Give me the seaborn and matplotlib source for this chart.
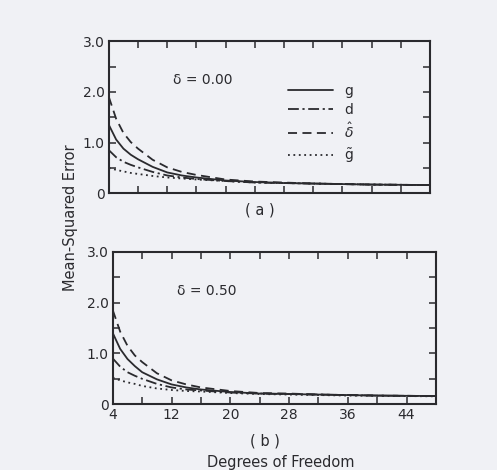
import numpy as np
import pandas as pd
import matplotlib
matplotlib.use("Agg")
import matplotlib.pyplot as plt
import seaborn as sns

# ---- data ----
dof = [4, 5, 6, 7, 8, 10, 12, 14, 16, 20, 24, 28, 32, 36, 40, 44, 48]

a_g      = [1.35, 1.06, 0.88, 0.76, 0.67, 0.52, 0.41, 0.35, 0.31, 0.25, 0.22, 0.20, 0.19, 0.18, 0.17, 0.165, 0.16]
a_d      = [0.85, 0.71, 0.62, 0.56, 0.51, 0.42, 0.35, 0.31, 0.28, 0.24, 0.21, 0.20, 0.19, 0.18, 0.17, 0.165, 0.16]
a_dhat   = [1.90, 1.47, 1.19, 1.01, 0.88, 0.66, 0.51, 0.42, 0.36, 0.27, 0.23, 0.21, 0.19, 0.18, 0.17, 0.165, 0.16]
a_gtilde = [0.50, 0.46, 0.43, 0.40, 0.38, 0.34, 0.31, 0.29, 0.27, 0.24, 0.21, 0.20, 0.19, 0.18, 0.17, 0.165, 0.16]

b_g      = [1.40, 1.09, 0.89, 0.75, 0.63, 0.49, 0.39, 0.33, 0.29, 0.24, 0.21, 0.20, 0.19, 0.18, 0.17, 0.165, 0.16]
b_d      = [0.90, 0.74, 0.63, 0.56, 0.50, 0.40, 0.33, 0.29, 0.27, 0.23, 0.21, 0.20, 0.19, 0.18, 0.17, 0.165, 0.16]
b_dhat   = [1.85, 1.43, 1.15, 0.96, 0.83, 0.61, 0.47, 0.39, 0.33, 0.26, 0.22, 0.21, 0.19, 0.18, 0.17, 0.165, 0.16]
b_gtilde = [0.52, 0.47, 0.43, 0.40, 0.36, 0.31, 0.28, 0.26, 0.25, 0.22, 0.20, 0.19, 0.18, 0.17, 0.165, 0.16, 0.155]

labels = ["g", "d", r"$\hat{\delta}$", r"$\tilde{\mathrm{g}}$"]
panel_titles = ["δ = 0.00", "δ = 0.50"]
panel_tags = ["( a )", "( b )"]
xticks_major = [4, 12, 20, 28, 36, 44]

# ---- style ----
sns.set_style("ticks")
plt.rcParams["font.family"] = ["DejaVu Sans"]
plt.rcParams["mathtext.fontset"] = "dejavusans"
bg = "#f0f1f5"
ink = "#2a2a2e"

fig = plt.figure(figsize=(4.97, 4.70), dpi=100, facecolor=bg)
ax_a = fig.add_axes([0.219, 0.589, 0.646, 0.323])
ax_b = fig.add_axes([0.227, 0.140, 0.650, 0.324])

dashes = {labels[0]: "", labels[1]: (6, 2, 1.2, 2), labels[2]: (5, 3), labels[3]: (1, 2)}

def make_df(series):
    rows = []
    for lab, vals in zip(labels, series):
        for x, y in zip(dof, vals):
            rows.append({"dof": x, "mse": y, "est": lab})
    return pd.DataFrame(rows)

data = [make_df([a_g, a_d, a_dhat, a_gtilde]), make_df([b_g, b_d, b_dhat, b_gtilde])]

for i, (ax, df) in enumerate(zip([ax_a, ax_b], data)):
    ax.set_facecolor(bg)
    sns.lineplot(data=df, x="dof", y="mse", style="est", style_order=labels,
                 dashes=dashes, color=ink, linewidth=1.3, ax=ax,
                 legend=(i == 0))
    ax.set_xlim(4, 48)
    ax.set_ylim(0, 3.0)
    ax.set_xticks(xticks_major)
    ax.set_xticks(np.arange(8, 48, 8), minor=True)
    ax.set_yticks([0, 1, 2, 3])
    ax.set_yticklabels(["0", "1.0", "2.0", "3.0"])
    ax.set_yticks([0.5, 1.5, 2.5], minor=True)
    ax.tick_params(which="both", direction="in", top=True, right=True,
                   length=5, width=1.1, color=ink, labelsize=10,
                   labelcolor=ink, pad=3)
    for s in ax.spines.values():
        s.set_linewidth(1.5)
        s.set_color(ink)
    ax.set_xlabel("")
    ax.set_ylabel("")
    ax.text(0.20, 0.745, panel_titles[i], transform=ax.transAxes,
            fontsize=10, color=ink, va="center", ha="left")

ax_a.tick_params(labelbottom=False)
leg = ax_a.legend(loc="upper left", bbox_to_anchor=(0.52, 0.80), frameon=False,
                  handlelength=3.2, fontsize=10, labelspacing=0.35,
                  handletextpad=0.8, title=None)
for t in leg.get_texts():
    t.set_color(ink)

fig.text(0.523, 1 - 210 / 470, panel_tags[0], ha="center", va="center", fontsize=10.5, color=ink)
fig.text(0.533, 1 - 441 / 470, panel_tags[1], ha="center", va="center", fontsize=10.5, color=ink)
fig.text(0.565, 1 - 462 / 470, "Degrees of Freedom", ha="center", va="center", fontsize=10.5, color=ink)
fig.text(0.141, 0.536, "Mean-Squared Error", rotation=90, ha="center", va="center",
         fontsize=10.5, color=ink)

fig.savefig("out.png", dpi=100, facecolor=bg)
